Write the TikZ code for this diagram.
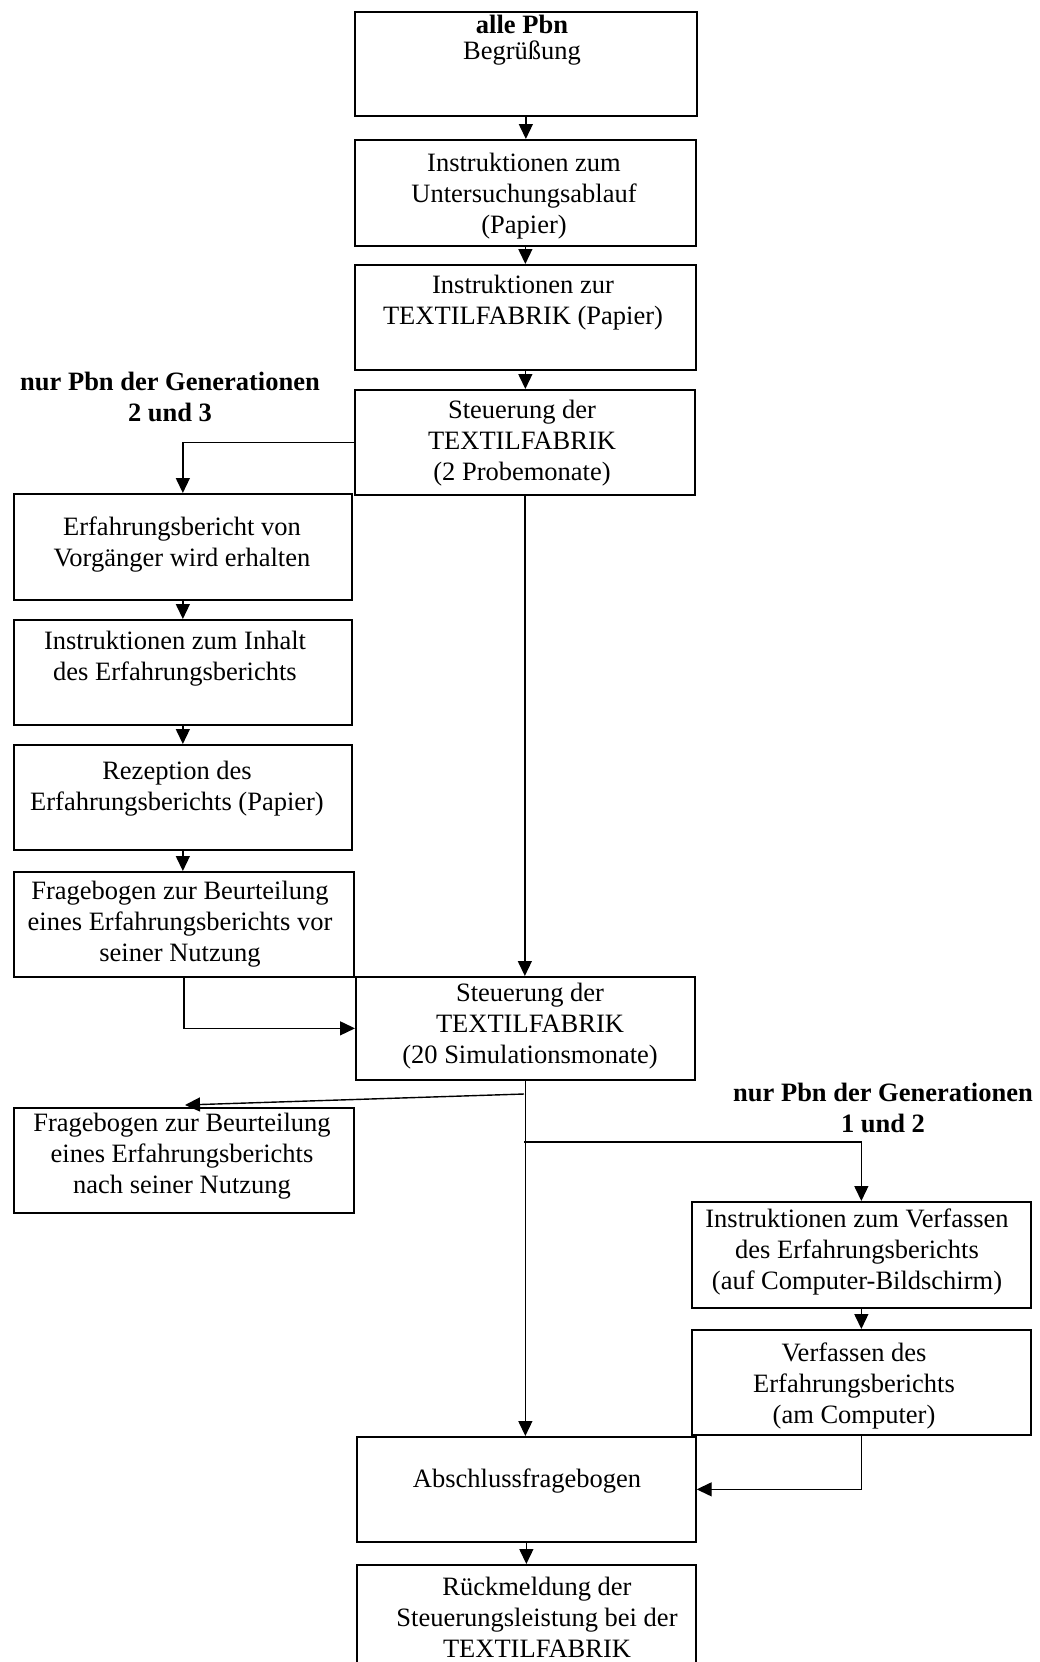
\documentclass[tikz,border=0pt]{standalone}
\usepackage{fontspec}
\setmainfont{Liberation Serif}
\usetikzlibrary{arrows.meta}
\begin{document}
\begin{tikzpicture}[x=1pt,y=-1pt,
 box/.style={draw, line width=1.7pt, rectangle, inner sep=0pt, anchor=north west},
 txt/.style={align=center, font=\fontsize{26.5}{31}\selectfont, inner sep=0pt},
 lbl/.style={align=center, font=\fontsize{26.5}{31}\selectfont\bfseries, inner sep=0pt},
 arr/.style={line width=1.4pt, -{Triangle[length=15pt,width=14pt]}}]
\useasboundingbox (0,0) rectangle (1040,1662);
\clip (0,0) rectangle (1040,1662);
% boxes
\node[box, minimum width=342pt, minimum height=104pt] (b1) at (354,11) {};
\node[box, minimum width=341pt, minimum height=106pt] (b2) at (354,139) {};
\node[box, minimum width=341pt, minimum height=105pt] (b3) at (354,264) {};
\node[box, minimum width=340pt, minimum height=105pt] (b4) at (354,389) {};
\node[box, minimum width=338pt, minimum height=106pt] (b5) at (13,493) {};
\node[box, minimum width=338pt, minimum height=105pt] (b6) at (13,619) {};
\node[box, minimum width=338pt, minimum height=105pt] (b7) at (13,744) {};
\node[box, minimum width=340pt, minimum height=105pt] (b8) at (13,871) {};
\node[box, minimum width=339pt, minimum height=103pt] (b9) at (355,976) {};
\node[box, minimum width=340pt, minimum height=105pt] (b10) at (13,1107) {};
\node[box, minimum width=339pt, minimum height=106pt] (b11) at (691,1201) {};
\node[box, minimum width=339pt, minimum height=105pt] (b12) at (691,1329) {};
\node[box, minimum width=339pt, minimum height=105pt] (b13) at (356,1436) {};
\node[box, minimum width=339pt, minimum height=130pt] (b14) at (356,1564) {};
% texts
\node[txt] (t1) at (522,40) {\textbf{alle Pbn}\\[-4.5pt]Begrüßung};
\node[txt] (t2) at (524,196) {Instruktionen zum\\Untersuchungsablauf\\(Papier)};
\node[txt] (t3) at (523,303) {Instruktionen zur\\TEXTILFABRIK (Papier)};
\node[txt] (t4) at (522,443) {Steuerung der\\TEXTILFABRIK\\(2 Probemonate)};
\node[txt] (t5) at (182,545) {Erfahrungsbericht von\\Vorgänger wird erhalten};
\node[txt] (t6) at (175,659) {Instruktionen zum Inhalt\\des Erfahrungsberichts};
\node[txt] (t7) at (177,789) {Rezeption des\\Erfahrungsberichts (Papier)};
\node[txt] (t8) at (180,924) {Fragebogen zur Beurteilung\\eines Erfahrungsberichts vor\\seiner Nutzung};
\node[txt] (t9) at (530,1026) {Steuerung der\\TEXTILFABRIK\\(20 Simulationsmonate)};
\node[txt] (t10) at (182,1156) {Fragebogen zur Beurteilung\\eines Erfahrungsberichts\\nach seiner Nutzung};
\node[txt] (t11) at (857,1252) {Instruktionen zum Verfassen\\des Erfahrungsberichts\\(auf Computer-Bildschirm)};
\node[txt] (t12) at (854,1386) {Verfassen des\\Erfahrungsberichts\\(am Computer)};
\node[txt] (t13) at (527,1481) {Abschlussfragebogen};
\node[txt] (t14) at (537,1617) {Rückmeldung der\\Steuerungsleistung bei der\\TEXTILFABRIK};
% labels
\node[lbl] (l1) at (170,397) {nur Pbn der Generationen\\2 und 3};
\node[lbl] (l2) at (883,1108) {nur Pbn der Generationen\\1 und 2};
% connectors
\coordinate (j1) at (524,1094);
\coordinate (j2) at (185,1105);
\coordinate (j3) at (524,1142);
\draw[arr] (b1.south) -- (b1.south |- b2.north);
\draw[arr] (b2.south) -- (b2.south |- b3.north);
\draw[arr] (b3.south) -- (b3.south |- b4.north);
\draw[arr] (b4.west) -| (b5.north);
\draw[arr] (b4.south) -- (b4.south |- b9.north);
\draw[arr] (b5.south) -- (b5.south |- b6.north);
\draw[arr] (b6.south) -- (b6.south |- b7.north);
\draw[arr] (b7.south) -- (b7.south |- b8.north);
\draw[arr] (b8.south) |- (b9.west);
\draw[arr] (b9.south) -- (b9.south |- b13.north);
\draw[arr] (j1) -- (j2);
\draw[arr] (j3) -| (b11.north);
\draw[arr] (b11.south) -- (b11.south |- b12.north);
\draw[arr] (b12.south) |- (b13.east);
\draw[arr] (b13.south) -- (b13.south |- b14.north);
\end{tikzpicture}
\end{document}
